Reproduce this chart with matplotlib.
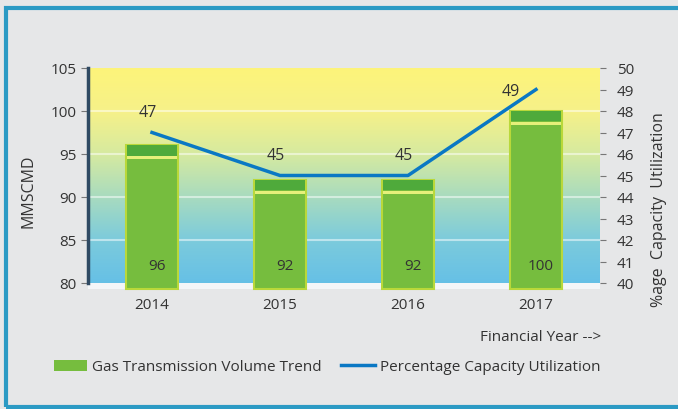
import numpy as np
import matplotlib.pyplot as plt
from matplotlib.colors import LinearSegmentedColormap
from matplotlib.patches import Rectangle, Patch
from matplotlib.lines import Line2D

plt.rcParams['font.family'] = ['Open Sans', 'DejaVu Sans']

# data
years = ["2014", "2015", "2016", "2017"]
volume = [96, 92, 92, 100]          # MMSCMD
utilization = [47, 45, 45, 49]      # %

txt = '#333333'
x = np.arange(len(years))

fig = plt.figure(figsize=(6.78, 4.10), dpi=100)
fig.patch.set_facecolor('#e6e7e8')
fig.patches.append(Rectangle((6/678, 2/410), 676/678, 399/410, transform=fig.transFigure,
                             fill=False, edgecolor='#2b9ac4', lw=3))

ax = fig.add_axes([88/678, 1-284/410, 512/678, 215/410])
ax.set_xlim(-0.5, 3.5)
ax.set_ylim(80, 105)

# gradient background
cmap = LinearSegmentedColormap.from_list('bg', [
    (0.0, '#66c0e6'), (0.2, '#7ccbdc'), (0.4, '#a8dbbf'),
    (0.6, '#d6eaa0'), (0.8, '#f6f189'), (1.0, '#fdf47a')])
grad = np.linspace(0, 1, 256).reshape(-1, 1)
ax.imshow(grad, extent=[-0.5, 3.5, 80, 105], origin='lower', aspect='auto', cmap=cmap, zorder=0)
for lvl in [85, 90, 95, 100]:
    ax.axhline(lvl, color='white', lw=1.5, alpha=0.5, zorder=1)
ax.add_patch(Rectangle((0, -0.03), 1, 0.03, transform=ax.transAxes, color='#f4f6f8',
                       clip_on=False, zorder=1, lw=0))

# bars
base = 79.3
vol = np.array(volume)
ax.bar(x, vol - base, bottom=base, width=0.41, color='#76bd3e', edgecolor='#b9d83a',
       lw=1.5, clip_on=False, zorder=2)
ax.bar(x, 1.2, bottom=vol - 1.2, width=0.39, color='#4faa3b', clip_on=False, zorder=3)
ax.bar(x, 0.35, bottom=vol - 1.6, width=0.39, color='#e6f07a', clip_on=False, zorder=3)
for xi, v in zip(x, volume):
    ax.text(xi + 0.04, 82.0, str(v), ha='center', va='center', fontsize=11, color=txt, zorder=5)

ax.set_xticks(x)
ax.set_xticklabels(years, fontsize=11, color=txt)
ax.tick_params(axis='x', length=0, pad=10)
ax.set_yticks([80, 85, 90, 95, 100, 105])
ax.tick_params(axis='y', length=5, color='#777777', labelsize=11, labelcolor=txt, pad=3)
for s in ['top', 'right', 'bottom']:
    ax.spines[s].set_visible(False)
ax.spines['left'].set_color('#2f4a63')
ax.spines['left'].set_linewidth(2.5)

# line on right axis
ax2 = ax.twinx()
ax2.set_ylim(40, 50)
ax2.plot(x, utilization, color='#0a78c4', lw=2.5, zorder=6)
for xi, u in zip(x, utilization):
    if xi == 3:
        ax2.text(xi - 0.2, u - 0.05, str(u), ha='center', va='center', fontsize=11.5, color=txt)
    else:
        ax2.text(xi - 0.03, u + 0.95, str(u), ha='center', va='center', fontsize=11.5, color=txt)
ax2.set_yticks(range(40, 51))
ax2.tick_params(axis='y', length=4, color='#777777', labelsize=11, labelcolor=txt, pad=8)
for s in ax2.spines.values():
    s.set_visible(False)

fig.text(28/678, 1-191/410, 'MMSCMD', rotation=90, ha='center', va='center',
         fontsize=11.5, color=txt)
fig.text(659/678, 1-210/410, '%age  Capacity  Utilization', rotation=90, ha='center',
         va='center', fontsize=11.5, color=txt)
fig.text(601/678, 1-338/410, 'Financial Year -->', ha='right', va='center',
         fontsize=11, color=txt)

handles = [Patch(facecolor='#76bd3e', edgecolor='none'),
           Line2D([], [], color='#0a78c4', lw=2.5)]
fig.legend(handles, ['Gas Transmission Volume Trend', 'Percentage Capacity Utilization'],
           loc='center', bbox_to_anchor=(327/678, 1-368/410), ncol=2, frameon=False,
           fontsize=11, handlelength=2.2, handleheight=0.7, handletextpad=0.3,
           columnspacing=1.3, labelcolor=txt)

fig.savefig('out.png', dpi=100, facecolor=fig.get_facecolor())
